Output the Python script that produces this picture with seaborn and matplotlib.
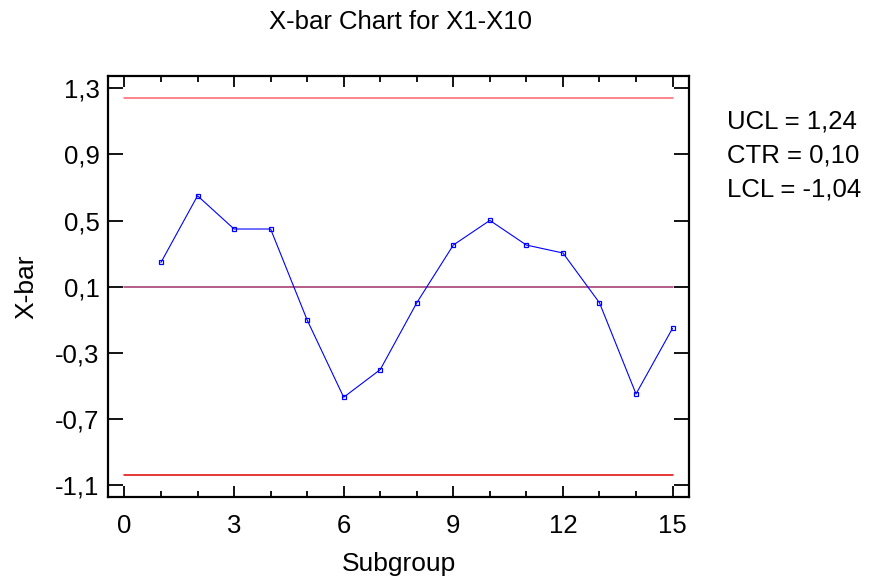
import matplotlib
matplotlib.use("Agg")
import matplotlib.pyplot as plt
import seaborn as sns
import pandas as pd
from matplotlib.ticker import FixedLocator, MultipleLocator, FixedFormatter

# ---- data ----
subgroups = list(range(1, 16))
xbar = [0.247, 0.650, 0.449, 0.449, -0.101, -0.568, -0.401, 0.003,
        0.352, 0.501, 0.352, 0.304, 0.003, -0.548, -0.151]
ucl = 1.24
ctr = 0.10
lcl = -1.04
x_ticks = [0, 3, 6, 9, 12, 15]
x_tick_labels = ["0", "3", "6", "9", "12", "15"]
y_ticks = [1.3, 0.9, 0.5, 0.1, -0.3, -0.7, -1.1]
y_tick_labels = ["1,3", "0,9", "0,5", "0,1", "-0,3", "-0,7", "-1,1"]
limit_labels = ["UCL = 1,24", "CTR = 0,10", "LCL = -1,04"]

df = pd.DataFrame({"Subgroup": subgroups, "X-bar": xbar})

sns.set_style("white")
plt.rcParams["font.family"] = ["Liberation Sans", "DejaVu Sans"]
plt.rcParams["text.color"] = "black"
plt.rcParams["axes.labelcolor"] = "black"
plt.rcParams["xtick.color"] = "black"
plt.rcParams["ytick.color"] = "black"

W, H = 871, 581
fig = plt.figure(figsize=(W / 100, H / 100), dpi=100)
ax = fig.add_axes([108 / W, 1 - 497 / H, (689 - 108) / W, (497 - 76) / H])

# control limits
ax.plot([0, 15], [ucl, ucl], color="#FF6070", lw=1.1, zorder=2)
ax.plot([0, 15], [ctr, ctr], color="#A0306A", lw=1.1, zorder=2)
ax.plot([0, 15], [lcl, lcl], color="#E00000", lw=1.1, zorder=2)

sns.lineplot(data=df, x="Subgroup", y="X-bar", ax=ax, color="#0000FF",
             lw=0.8, marker="s", markersize=3.5, markerfacecolor="none",
             markeredgecolor="#0000FF", markeredgewidth=0.9, zorder=3)

ax.set_xlim(-0.45, 15.45)
ax.set_ylim(-1.171, 1.374)

ax.xaxis.set_major_locator(FixedLocator(x_ticks))
ax.xaxis.set_major_formatter(FixedFormatter(x_tick_labels))
ax.xaxis.set_minor_locator(MultipleLocator(1))
ax.yaxis.set_major_locator(FixedLocator(y_ticks))
ax.yaxis.set_major_formatter(FixedFormatter(y_tick_labels))

ax.tick_params(axis="x", which="major", direction="in", length=8, width=1.3,
               top=True, bottom=True, labelsize=18.5, pad=12,
               colors="black", labelcolor="black")
ax.tick_params(axis="x", which="minor", direction="in", length=4, width=1.3,
               top=True, bottom=True, colors="black")
ax.tick_params(axis="y", which="major", direction="in", length=11, width=1.3,
               left=True, right=True, labelsize=18.5, pad=6,
               colors="black", labelcolor="black")

for s in ax.spines.values():
    s.set_visible(True)
    s.set_linewidth(1.6)
    s.set_color("black")

ax.set_xlabel("Subgroup", fontsize=19, labelpad=10, color="black")
ax.set_ylabel("X-bar", fontsize=19, labelpad=12, color="black")

fig.text(400 / W, 1 - 22 / H, "X-bar Chart for X1-X10", fontsize=18.5,
         ha="center", va="center", color="black")

for i, t in enumerate(limit_labels):
    fig.text(727 / W, 1 - (122 + 34 * i) / H, t, fontsize=18.5,
             ha="left", va="center", color="black")

fig.savefig("out.png", dpi=100)
